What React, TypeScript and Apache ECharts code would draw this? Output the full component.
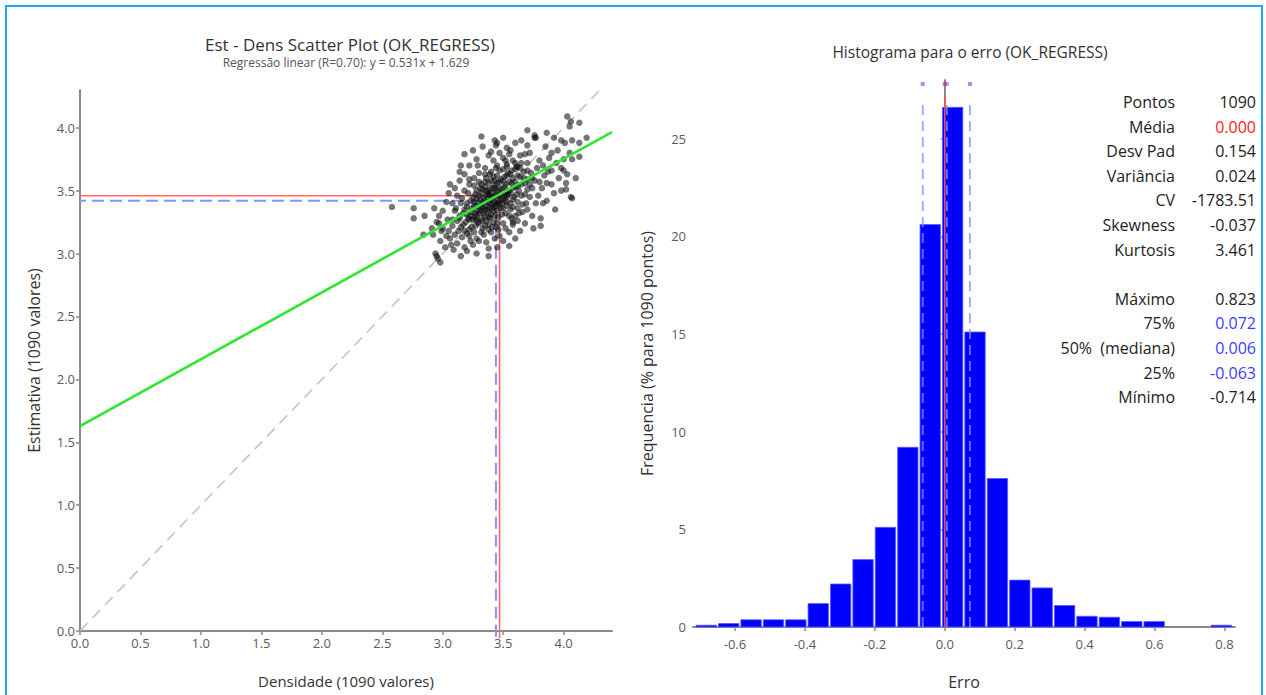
import React, { useEffect, useRef } from 'react';
import * as echarts from 'echarts';

// ---- scatter: density (x) vs estimate (y) ----
const densEst: [number, number][] = [
  // core
  [3.15, 3.21], [3.22, 3.19], [3.27, 3.22], [3.33, 3.2], [3.38, 3.23],
  [3.12, 3.26], [3.19, 3.25], [3.25, 3.27], [3.3, 3.24], [3.36, 3.26], [3.42, 3.25],
  [3.14, 3.3], [3.2, 3.31], [3.26, 3.29], [3.3, 3.32], [3.35, 3.3], [3.4, 3.31], [3.46, 3.29], [3.52, 3.32],
  [3.18, 3.35], [3.24, 3.36], [3.29, 3.34], [3.33, 3.37], [3.37, 3.35], [3.41, 3.36], [3.45, 3.34], [3.5, 3.36], [3.56, 3.35],
  [3.2, 3.4], [3.26, 3.41], [3.31, 3.39], [3.35, 3.42], [3.39, 3.4], [3.43, 3.41], [3.47, 3.39], [3.51, 3.42], [3.56, 3.4], [3.62, 3.41],
  [3.25, 3.45], [3.3, 3.46], [3.34, 3.44], [3.38, 3.47], [3.42, 3.45], [3.46, 3.46], [3.5, 3.44], [3.54, 3.47], [3.59, 3.45], [3.65, 3.46],
  [3.28, 3.5], [3.33, 3.51], [3.37, 3.49], [3.41, 3.52], [3.45, 3.5], [3.49, 3.51], [3.53, 3.49], [3.58, 3.52], [3.63, 3.5], [3.7, 3.51],
  [3.32, 3.55], [3.38, 3.56], [3.43, 3.54], [3.47, 3.57], [3.52, 3.55], [3.57, 3.56], [3.62, 3.54], [3.68, 3.56],
  [3.36, 3.6], [3.42, 3.61], [3.48, 3.59], [3.53, 3.62], [3.58, 3.6], [3.64, 3.61], [3.7, 3.59],
  [3.4, 3.65], [3.47, 3.66], [3.54, 3.64], [3.6, 3.67], [3.67, 3.65],
  [3.45, 3.7], [3.53, 3.71], [3.61, 3.69], [3.7, 3.72],
  [3.32, 3.28], [3.38, 3.33], [3.44, 3.38], [3.36, 3.38], [3.4, 3.43], [3.44, 3.48], [3.48, 3.43], [3.28, 3.38],
  [3.34, 3.32], [3.42, 3.34], [3.46, 3.42], [3.39, 3.46], [3.31, 3.43], [3.36, 3.5], [3.43, 3.58], [3.5, 3.48],
  [3.27, 3.32], [3.22, 3.27], [3.24, 3.33], [3.53, 3.45],
  [3.1, 3.15], [3.16, 3.13], [3.22, 3.14], [3.28, 3.12], [3.34, 3.15], [3.4, 3.17], [3.46, 3.19],
  [3.05, 3.18], [3.08, 3.22], [3.3, 3.1], [3.43, 3.12], [3.18, 3.18], [3.36, 3.09], [3.25, 3.07],
  [3.17, 3.23], [3.24, 3.21], [3.29, 3.25], [3.35, 3.22], [3.41, 3.21], [3.14, 3.28], [3.21, 3.28], [3.28, 3.27],
  [3.33, 3.26], [3.39, 3.28], [3.45, 3.24], [3.17, 3.32], [3.23, 3.3], [3.28, 3.3], [3.32, 3.34], [3.38, 3.29],
  [3.43, 3.3], [3.49, 3.31], [3.55, 3.3], [3.2, 3.37], [3.26, 3.38], [3.31, 3.36], [3.35, 3.35], [3.39, 3.37],
  [3.43, 3.37], [3.48, 3.36], [3.53, 3.38], [3.58, 3.37], [3.23, 3.42], [3.28, 3.43], [3.33, 3.4], [3.37, 3.41],
  [3.41, 3.39], [3.45, 3.4], [3.49, 3.4], [3.53, 3.41], [3.58, 3.43], [3.27, 3.47], [3.32, 3.48], [3.36, 3.46],
  [3.4, 3.48], [3.44, 3.46], [3.48, 3.47], [3.52, 3.46], [3.56, 3.48], [3.61, 3.47], [3.31, 3.52], [3.35, 3.53],
  [3.39, 3.51], [3.43, 3.52], [3.47, 3.52], [3.51, 3.53], [3.55, 3.5], [3.6, 3.53], [3.35, 3.57], [3.4, 3.58],
  [3.45, 3.56], [3.5, 3.58], [3.55, 3.57], [3.6, 3.57], [3.65, 3.55], [3.39, 3.63], [3.45, 3.62], [3.51, 3.61],
  [3.56, 3.63], [3.62, 3.62], [3.67, 3.6], [3.44, 3.68], [3.5, 3.67], [3.57, 3.66], [3.64, 3.68], [3.13, 3.18],
  [3.2, 3.16], [3.26, 3.17], [3.32, 3.17], [3.38, 3.19], [3.44, 3.21], [3.5, 3.24], [3.08, 3.27], [3.11, 3.36],
  [3.16, 3.44], [3.21, 3.48], [3.26, 3.54], [3.3, 3.57], [3.35, 3.63], [3.57, 3.28], [3.63, 3.32], [3.66, 3.39],
  [3.68, 3.47], [3.72, 3.55], [3.74, 3.6], [3.7, 3.66], [3.6, 3.72], [3.52, 3.74],
  // surrounding ring
  [2.98, 3.1], [3.02, 3.05], [3.06, 3.12], [3.0, 3.2], [3.04, 3.27], [3.1, 3.34], [3.12, 3.08], [3.18, 3.05],
  [3.15, 3.4], [3.08, 3.4], [3.12, 3.46], [3.18, 3.5], [3.22, 3.55], [3.26, 3.6], [3.2, 3.02], [3.38, 3.04],
  [3.5, 3.1], [3.55, 3.17], [3.58, 3.25], [3.6, 3.3], [3.62, 3.36], [3.66, 3.33], [3.69, 3.4], [3.72, 3.45],
  [3.74, 3.52], [3.76, 3.58], [3.73, 3.64], [3.78, 3.68], [3.65, 3.72], [3.58, 3.74], [3.5, 3.76], [3.42, 3.74],
  [3.35, 3.68], [3.3, 3.64], [3.38, 3.78], [3.47, 3.8], [3.56, 3.82], [3.64, 3.78], [3.72, 3.8], [3.8, 3.74],
  [3.84, 3.62], [3.82, 3.52], [3.79, 3.46], [3.86, 3.56], [3.9, 3.66], [3.88, 3.76], [3.94, 3.72], [3.96, 3.6],
  [3.92, 3.48], [3.68, 3.24], [3.74, 3.3], [3.64, 3.18], [3.55, 3.06], [2.92, 3.15], [2.95, 3.25], [3.0, 3.34],
  [3.05, 3.48], [3.14, 3.58], [3.22, 3.7], [3.28, 3.75], [3.33, 3.85], [3.44, 3.86], [3.6, 3.88], [3.7, 3.86],
  [3.76, 3.92], [3.85, 3.85], [3.95, 3.82], [4.0, 3.75], [3.98, 3.68], [4.02, 3.56], [3.98, 3.5],
  [3.03, 3.14], [2.97, 3.24], [3.09, 3.03], [3.23, 3.1], [3.47, 3.14], [3.52, 3.2], [3.62, 3.26], [3.7, 3.35],
  [3.77, 3.4], [3.8, 3.57], [3.83, 3.7], [3.87, 3.65], [3.9, 3.8], [3.68, 3.79], [3.55, 3.79], [3.4, 3.81],
  [3.29, 3.7], [3.18, 3.63], [3.1, 3.52], [3.03, 3.41], [2.97, 3.3], [3.15, 3.7], [3.25, 3.82], [3.5, 3.92],
  [3.7, 3.98], [3.92, 3.92], [4.05, 3.8], [4.0, 3.66], [4.1, 3.6], [3.9, 3.55], [3.86, 3.42], [3.75, 3.2],
  [3.6, 3.12], [3.45, 3.05], [3.15, 2.98],
  // outlying points
  [2.58, 3.37], [2.76, 3.36], [2.93, 3.36], [2.76, 3.28], [2.85, 3.3], [2.91, 3.2], [2.84, 3.15], [2.99, 3.18],
  [3.07, 3.07], [2.94, 3.0], [2.96, 2.96], [2.98, 2.93], [2.95, 2.98], [3.28, 3.0], [3.38, 2.98], [3.18, 3.79],
  [3.14, 3.65], [3.06, 3.55], [3.22, 3.59], [3.32, 3.93], [3.43, 3.9], [3.45, 3.88], [3.53, 3.84], [3.65, 3.9],
  [3.76, 3.94], [3.77, 3.92], [3.86, 3.96], [4.03, 4.09], [4.06, 4.05], [4.13, 4.04], [4.05, 4.01], [3.98, 3.9],
  [4.01, 3.88], [4.07, 3.9], [4.13, 3.88], [4.19, 3.92], [4.13, 3.77], [4.07, 3.75], [4.03, 3.63], [4.02, 3.51],
  [4.06, 3.45], [4.07, 3.44], [3.93, 3.35], [3.81, 3.28], [3.81, 3.22], [3.58, 3.23], [3.83, 3.4], [3.62, 3.69],
  [3.53, 3.69],
];

// regression y = a x + b
const regSlope = 0.531;
const regIntercept = 1.629;
const meanDens = 3.47;
const meanEst = 3.46;
const medDens = 3.44;
const medEst = 3.42;
const scatterTicks = [0, 0.5, 1.0, 1.5, 2.0, 2.5, 3.0, 3.5, 4.0];

// ---- histogram of the error ----
const errMin = -0.714;
const errMax = 0.823;
const errMean = 0.0;
const errQ25 = -0.063;
const errMedian = 0.006;
const errQ75 = 0.072;
const histFreq = [
  0.09, 0.18, 0.37, 0.37, 0.37, 1.2, 2.2, 3.45, 5.1, 9.2, 20.6, 26.6,
  15.1, 7.6, 2.4, 2.0, 1.1, 0.55, 0.5, 0.28, 0.28, 0, 0, 0.09,
];
const histXTicks = [-0.6, -0.4, -0.2, 0.0, 0.2, 0.4, 0.6, 0.8];
const histYTicks = [0, 5, 10, 15, 20, 25];

const statLabels = ['Pontos', 'Média', 'Desv Pad', 'Variância', 'CV', 'Skewness', 'Kurtosis', '', 'Máximo', '75%', '50%  (mediana)', '25%', 'Mínimo'];
const statValues = ['1090', '0.000', '0.154', '0.024', '-1783.51', '-0.037', '3.461', '', '0.823', '0.072', '0.006', '-0.063', '-0.714'];
const statColors = ['#222', '#ff1a1a', '#222', '#222', '#222', '#222', '#222', '#222', '#222', '#3c3cff', '#3c3cff', '#3c3cff', '#222'];

const FONT = '"Open Sans", "Noto Sans", sans-serif';

export default function App() {
  const ref = useRef<HTMLDivElement>(null);

  useEffect(() => {
    document.body.style.margin = '0';
    const chart = echarts.init(ref.current!, null, { renderer: 'svg' });

    const binW = (errMax - errMin) / histFreq.length;
    const histData = histFreq.map((f, i) => [errMin + i * binW, errMin + (i + 1) * binW, f]);
    const xEnd = 4.4;

    const axisLineStyle = { lineStyle: { color: '#8a8a8a', width: 2 } };
    const tickStyle = { show: true, length: 4, lineStyle: { color: '#8a8a8a', width: 1.5 } };
    const labelStyle = { color: '#5a5a5a', fontSize: 13, fontFamily: FONT };
    const nameStyle = { color: '#333', fontSize: 14, fontFamily: FONT };

    const txt = (text: string, x: number, y: number, size: number, fill: string, align = 'center') => ({
      type: 'text',
      x,
      y,
      silent: true,
      style: {
        text,
        font: `${size}px ${FONT}`,
        fill,
        textAlign: align,
        align,
        textVerticalAlign: 'middle',
        verticalAlign: 'middle',
      },
    });

    const statGraphics: any[] = [];
    statLabels.forEach((l, i) => {
      const y = 102 + i * 24.6;
      if (l) statGraphics.push(txt(l, 1175, y, 16, '#222', 'right'));
      if (statValues[i]) statGraphics.push(txt(statValues[i], 1256, y, 16, statColors[i], 'right'));
    });

    chart.setOption({
      animation: false,
      backgroundColor: '#fff',
      textStyle: { fontFamily: FONT },
      grid: [
        { left: 80, top: 90, right: 654, bottom: 64 },
        { left: 693, top: 80, right: 31, bottom: 64 },
      ],
      xAxis: [
        {
          gridIndex: 0, type: 'value', min: 0, max: xEnd, interval: 0.5,
          axisLine: axisLineStyle, splitLine: { show: false },
          axisTick: { ...tickStyle, customValues: scatterTicks },
          axisLabel: { ...labelStyle, margin: 5, customValues: scatterTicks, formatter: (v: number) => v.toFixed(1) },
          name: 'Densidade (1090 valores)', nameLocation: 'middle', nameGap: 42, nameTextStyle: { ...nameStyle, fontSize: 15 },
        },
        {
          gridIndex: 1, type: 'value', min: -0.72, max: 0.83,
          axisLine: axisLineStyle, splitLine: { show: false },
          axisTick: { ...tickStyle, customValues: histXTicks },
          axisLabel: { ...labelStyle, margin: 10, customValues: histXTicks, formatter: (v: number) => v.toFixed(1) },
          name: 'Erro', nameLocation: 'middle', nameGap: 47, nameTextStyle: { ...nameStyle, fontSize: 16 },
        },
      ],
      yAxis: [
        {
          gridIndex: 0, type: 'value', min: 0, max: 4.3, interval: 0.5,
          axisLine: axisLineStyle, splitLine: { show: false },
          axisTick: { ...tickStyle, customValues: scatterTicks },
          axisLabel: { ...labelStyle, margin: 5, customValues: scatterTicks, formatter: (v: number) => v.toFixed(1) },
          name: 'Estimativa (1090 valores)', nameLocation: 'middle', nameGap: 38, nameTextStyle: { ...nameStyle, fontSize: 16 },
        },
        {
          gridIndex: 1, type: 'value', min: 0, max: 28, interval: 5,
          axisLine: axisLineStyle, splitLine: { show: false },
          axisTick: { ...tickStyle, customValues: histYTicks },
          axisLabel: { ...labelStyle, margin: 7, customValues: histYTicks },
          name: 'Frequencia (% para 1090 pontos)', nameLocation: 'middle', nameGap: 38, nameTextStyle: { ...nameStyle, fontSize: 16 },
        },
      ],
      series: [
        // y = x reference
        {
          type: 'line', xAxisIndex: 0, yAxisIndex: 0, data: [[0, 0], [4.3, 4.3]],
          showSymbol: false, silent: true, z: 1,
          lineStyle: { color: '#c4c4c4', width: 1.6, type: [11, 7] },
        },
        // mean guides
        {
          type: 'line', xAxisIndex: 0, yAxisIndex: 0, clip: false,
          data: [[-0.07, meanEst], [meanDens, meanEst], [meanDens, -0.06]],
          showSymbol: false, silent: true, z: 2,
          lineStyle: { color: '#ff6b6b', width: 1.6 },
        },
        // median guides
        {
          type: 'line', xAxisIndex: 0, yAxisIndex: 0, clip: false,
          data: [[-0.05, medEst], [medDens, medEst], [medDens, -0.05]],
          showSymbol: false, silent: true, z: 2,
          lineStyle: { color: '#8f8fff', width: 2, type: [12, 6] },
        },
        {
          type: 'scatter', xAxisIndex: 0, yAxisIndex: 0, data: densEst,
          symbolSize: 6.5, z: 3, silent: true,
          itemStyle: { color: 'rgba(10,10,10,0.7)' },
        },
        // regression line
        {
          type: 'line', xAxisIndex: 0, yAxisIndex: 0,
          data: [[0, regIntercept], [xEnd, regSlope * xEnd + regIntercept]],
          showSymbol: false, silent: true, z: 4,
          lineStyle: { color: '#2ee62e', width: 2.6 },
        },
        // histogram bars
        {
          type: 'custom', xAxisIndex: 1, yAxisIndex: 1, data: histData, z: 2, silent: true,
          encode: { x: [0, 1], y: 2 },
          renderItem: (_p: any, api: any) => {
            const h = api.value(2);
            if (!h) return null;
            const a = api.coord([api.value(0), h]);
            const b = api.coord([api.value(1), 0]);
            return {
              type: 'rect',
              shape: { x: a[0] + 1, y: a[1], width: b[0] - a[0] - 2, height: b[1] - a[1] },
              style: { fill: '#0000ff', stroke: '#5a5aff', lineWidth: 0.8 },
            };
          },
        },
        // quartile and median guides
        ...[errQ25, errQ75, errMedian].map((q) => ({
          type: 'line', xAxisIndex: 1, yAxisIndex: 1, data: [[q, 0], [q, 26.9]],
          showSymbol: false, silent: true, z: 5,
          lineStyle: { color: 'rgba(120,150,255,0.8)', width: 1.8, type: [10, 6] },
        })),
        {
          type: 'line', xAxisIndex: 1, yAxisIndex: 1, data: [[errMean, 0], [errMean, 27.15]],
          showSymbol: false, silent: true, z: 6,
          lineStyle: { color: '#ff5050', width: 1.4 },
        },
        // markers above the guides
        {
          type: 'scatter', xAxisIndex: 1, yAxisIndex: 1, silent: true, z: 6,
          symbol: 'rect', symbolSize: 4,
          data: [
            { value: [errQ25, 27.8], itemStyle: { color: 'rgba(90,90,255,0.8)' } },
            { value: [errMean, 27.8], itemStyle: { color: 'rgba(230,40,60,0.8)' } },
            { value: [errMedian, 27.8], itemStyle: { color: 'rgba(90,70,255,0.6)' } },
            { value: [errQ75, 27.8], itemStyle: { color: 'rgba(90,90,255,0.8)' } },
          ],
        },
      ],
      graphic: [
        {
          type: 'rect', silent: true, z: 100,
          shape: { x: 6, y: 6, width: 1256, height: 720 },
          style: { fill: 'none', stroke: '#1fa8ee', lineWidth: 2 },
        },
        txt('Est - Dens Scatter Plot (OK_REGRESS)', 350, 44, 17, '#333'),
        txt('Regressão linear (R=0.70): y = 0.531x + 1.629', 346, 62, 12, '#555'),
        txt('Histograma para o erro (OK_REGRESS)', 970, 52, 15.5, '#333'),
        ...statGraphics,
      ],
    });

    return () => chart.dispose();
  }, []);

  return <div ref={ref} style={{ position: 'fixed', left: 0, top: 0, width: 1266, height: 695 }} />;
}
